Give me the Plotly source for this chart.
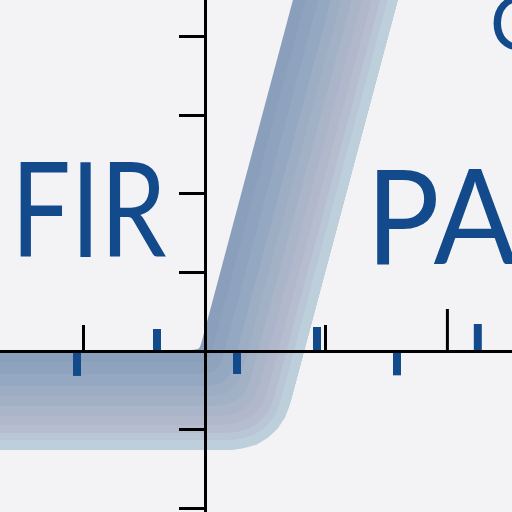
import plotly.graph_objects as go

# ---- data (x unit = 80 px, y unit = 78.5 px, origin at the axis crossing)
tube_x = [-3.5, -0.118, 0.031, 0.173, 0.301, 0.409, 0.493, 0.548, 2.013]
tube_y = [-0.624, -0.624, -0.601, -0.558, -0.479, -0.375, -0.247, -0.102, 5.49]

pulse_x = [-1.6, -0.6, 0.4, 1.4, 2.4, 3.41]
pulse_y = [-0.318, 0.28, -0.293, 0.306, -0.31, 0.344]

y_ticks = [-2, -1, 1, 2, 3, 4]
x_ticks = [-1.52, 1.51]
x_tall_ticks = [3.03]
x_tall_len = [0.535]

texts = ["FIR", "PA", "C"]

# ---- styling
BG = "#f3f3f6"
BLUE = "#124a8c"
XR = [-2.5625, 3.8375]
YR = [-2.051, 4.471]

shades = [(0.0, "#8a9fbb"), (0.12, "#8fa3be"), (0.24, "#95a8c1"), (0.36, "#9cadc4"),
          (0.46, "#a3b1c7"), (0.56, "#abb5ca"), (0.66, "#b2b8cc"), (0.75, "#b6bdcf"),
          (0.83, "#b8c6d5"), (0.9, "#bccfda")]

fig = go.Figure()
for f, col in shades:
    s = 50 * f
    w = 100 * (1 - f)
    dx = 0.8 * s / 80
    dy = -s / 78.5
    fig.add_trace(go.Scatter(x=[v + dx for v in tube_x], y=[v + dy for v in tube_y],
                             mode="lines", line=dict(color=col, width=w, simplify=False),
                             hoverinfo="skip", showlegend=False))

px, py = [], []
for xv, yv in zip(pulse_x, pulse_y):
    px += [xv, xv, None]
    py += [0, yv, None]
fig.add_trace(go.Scatter(x=px, y=py, mode="lines", line=dict(color=BLUE, width=8, simplify=False),
                         hoverinfo="skip", showlegend=False))

tx, ty = [], []
for xv, ln in zip(x_tall_ticks, x_tall_len):
    tx += [xv, xv, None]
    ty += [0, ln, None]
fig.add_trace(go.Scatter(x=tx, y=ty, mode="lines", line=dict(color="black", width=3, simplify=False),
                         hoverinfo="skip", showlegend=False))

fig.update_layout(
    width=512, height=512, margin=dict(l=0, r=0, t=0, b=0),
    paper_bgcolor=BG, plot_bgcolor=BG, showlegend=False,
    xaxis=dict(range=XR, anchor="free", position=(512 - 351) / 512, side="top",
               showline=True, linewidth=3, linecolor="black", showgrid=False, zeroline=False,
               ticks="outside", ticklen=25, tickwidth=3, tickcolor="black",
               tickvals=x_ticks, showticklabels=False),
    yaxis=dict(range=YR, anchor="free", position=205 / 512, side="left",
               showline=True, linewidth=3, linecolor="black", showgrid=False, zeroline=False,
               ticks="outside", ticklen=25, tickwidth=3, tickcolor="black",
               tickvals=y_ticks, showticklabels=False),
)

# texts: (pixel left x, pixel centre y, size)
pos = [(9, 205.7, 132), (363.5, 212.5, 132), (488, 21, 75)]
for t, (cx, cy, sz) in zip(texts, pos):
    fig.add_annotation(text=t, xref="paper", yref="paper", x=cx / 512, y=1 - cy / 512,
                       xanchor="left", yanchor="middle", showarrow=False,
                       font=dict(family="Lato", size=sz, color=BLUE))

# the logo lettering is narrower than Lato: compress it horizontally
post = """
document.body.style.margin = '0px';
var sx = {'FIR': 0.8, 'PA': 0.93};
document.querySelectorAll('.annotation-text').forEach(function (t) {
  var k = sx[t.textContent];
  if (k) {
    t.style.transformBox = 'fill-box';
    t.style.transformOrigin = 'left center';
    t.style.transform = 'scaleX(' + k + ')';
  }
});
"""
fig.write_html("out.html", config={"displayModeBar": False}, post_script=post)
